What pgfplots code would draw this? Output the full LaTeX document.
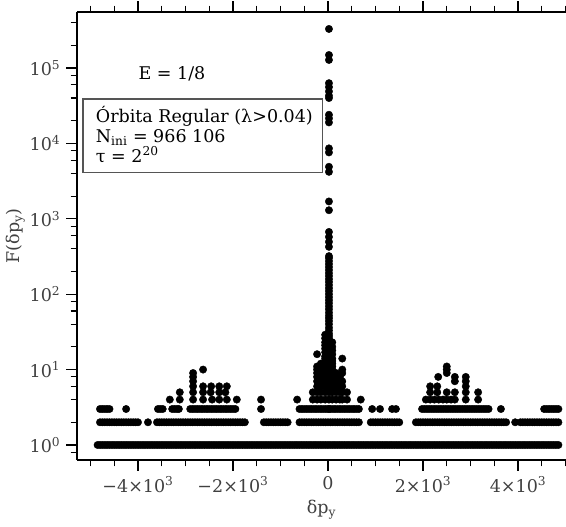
\documentclass[border=0pt]{standalone}
\usepackage{fontspec}
\setmainfont{DejaVu Serif}
\usepackage{pgfplots}
\pgfplotsset{compat=1.18}
\definecolor{lbl}{RGB}{64,64,64}
\definecolor{boxc}{RGB}{85,85,85}
\pgfplotsset{dots/.style={only marks, mark=*, black, mark size=3.7pt, mark options={draw=none, fill=black}}}

\begin{document}
\fontsize{17.5}{21}\selectfont
\begin{tikzpicture}
\path[use as bounding box] (-77pt,-67pt) rectangle (489pt,460pt);
\begin{axis}[
  at={(0,0)}, anchor=south west,
  scale only axis, width=489pt, height=448pt,
  xmin=-5284, xmax=5010,
  ymode=log, ymin=0.632, ymax=5.54e5,
  axis x line*=box, axis y line*=left,
  axis line style={line width=1.2pt, black},
  tick align=outside,
  major tick length=10.7pt, minor tick length=6.3pt,
  every tick/.style={line width=1.2pt, black},
  xtick={-4000,-2000,0,2000,4000},
  xticklabels={−4×10\textsuperscript{3},−2×10\textsuperscript{3},0,2×10\textsuperscript{3},4×10\textsuperscript{3}},
  minor xtick={-5000,-4500,-3500,-3000,-2500,-1500,-1000,-500,500,1000,1500,2500,3000,3500,4500,5000},
  ytick={1,10,100,1000,10000,100000},
  yticklabels={10\textsuperscript{0},10\textsuperscript{1},10\textsuperscript{2},10\textsuperscript{3},10\textsuperscript{4},10\textsuperscript{5}},
  minor ytick={0.8,2,4,6,8,20,40,60,80,200,400,600,800,2000,4000,6000,8000,20000,40000,60000,80000,200000,400000},
  ticklabel style={font=\fontsize{17.5}{21}\selectfont, text=lbl},
  xlabel={δp\textsubscript{y}}, ylabel={F(δp\textsubscript{y})},
  label style={font=\fontsize{17.5}{21}\selectfont, text=lbl},
  xlabel shift=-4pt, ylabel shift=-7pt,
  clip=false,
]
% F = 1
\addplot[dots] coordinates {
(-4850,1) (-4800,1) (-4750,1) (-4700,1) (-4650,1) (-4600,1) (-4550,1) (-4500,1) (-4450,1) (-4400,1)
(-4350,1) (-4300,1) (-4250,1) (-4200,1) (-4150,1) (-4100,1) (-4050,1) (-4000,1) (-3950,1) (-3900,1)
(-3850,1) (-3800,1) (-3750,1) (-3700,1) (-3650,1) (-3600,1) (-3550,1) (-3500,1) (-3450,1) (-3400,1)
(-3350,1) (-3300,1) (-3250,1) (-3200,1) (-3150,1) (-3100,1) (-3050,1) (-3000,1) (-2950,1) (-2900,1)
(-2850,1) (-2800,1) (-2750,1) (-2700,1) (-2650,1) (-2600,1) (-2550,1) (-2500,1) (-2450,1) (-2400,1)
(-2350,1) (-2300,1) (-2250,1) (-2200,1) (-2150,1) (-2100,1) (-2050,1) (-2000,1) (-1950,1) (-1900,1)
(-1850,1) (-1800,1) (-1750,1) (-1700,1) (-1650,1) (-1600,1) (-1550,1) (-1500,1) (-1450,1) (-1400,1)
(-1350,1) (-1300,1) (-1250,1) (-1200,1) (-1150,1) (-1100,1) (-1050,1) (-1000,1) (-950,1) (-900,1)
(-850,1) (-800,1) (-750,1) (-700,1) (-650,1) (-600,1) (-550,1) (-500,1) (-450,1) (-400,1)
(-350,1) (-300,1) (-250,1) (-200,1) (-150,1) (-100,1) (-50,1) (0,1) (50,1) (100,1)
(150,1) (200,1) (250,1) (300,1) (350,1) (400,1) (450,1) (500,1) (550,1) (600,1)
(650,1) (700,1) (750,1) (800,1) (850,1) (900,1) (950,1) (1000,1) (1050,1) (1100,1)
(1150,1) (1200,1) (1250,1) (1300,1) (1350,1) (1400,1) (1450,1) (1500,1) (1550,1) (1600,1)
(1650,1) (1700,1) (1750,1) (1800,1) (1850,1) (1900,1) (1950,1) (2000,1) (2050,1) (2100,1)
(2150,1) (2200,1) (2250,1) (2300,1) (2350,1) (2400,1) (2450,1) (2500,1) (2550,1) (2600,1)
(2650,1) (2700,1) (2750,1) (2800,1) (2850,1) (2900,1) (2950,1) (3000,1) (3050,1) (3100,1)
(3150,1) (3200,1) (3250,1) (3300,1) (3350,1) (3400,1) (3450,1) (3500,1) (3550,1) (3600,1)
(3650,1) (3700,1) (3750,1) (3800,1) (3850,1) (3900,1) (3950,1) (4000,1) (4050,1) (4100,1)
(4150,1) (4200,1) (4250,1) (4300,1) (4350,1) (4400,1) (4450,1) (4500,1) (4550,1) (4600,1)
(4650,1) (4700,1) (4750,1) (4800,1) (4850,1)
};
% F = 2
\addplot[dots] coordinates {
(-4800,2) (-4750,2) (-4700,2) (-4650,2) (-4600,2) (-4550,2) (-4500,2) (-4450,2) (-4400,2) (-4350,2)
(-4300,2) (-4250,2) (-4200,2) (-4150,2) (-4100,2) (-4050,2) (-4000,2)
(-3790,2)
(-3600,2) (-3550,2) (-3500,2) (-3450,2) (-3400,2) (-3350,2) (-3300,2) (-3250,2) (-3200,2) (-3150,2)
(-3100,2) (-3050,2) (-3000,2) (-2950,2) (-2900,2) (-2850,2) (-2800,2) (-2750,2) (-2700,2) (-2650,2)
(-2600,2) (-2550,2) (-2500,2) (-2450,2) (-2400,2) (-2350,2) (-2300,2) (-2250,2) (-2200,2) (-2150,2)
(-2100,2) (-2050,2) (-2000,2) (-1950,2) (-1900,2) (-1850,2) (-1800,2) (-1750,2)
(-1350,2) (-1300,2) (-1250,2) (-1200,2) (-1150,2) (-1100,2) (-1050,2) (-1000,2) (-950,2) (-900,2) (-850,2)
(-600,2) (-550,2) (-500,2) (-450,2) (-400,2) (-350,2) (-300,2) (-250,2) (-200,2) (-150,2)
(-100,2) (-50,2) (0,2) (50,2) (100,2) (150,2) (200,2) (250,2) (300,2) (350,2)
(400,2) (450,2) (500,2) (550,2) (600,2) (650,2)
(900,2) (950,2) (1000,2) (1050,2) (1100,2) (1150,2) (1200,2) (1250,2) (1300,2) (1350,2) (1400,2) (1450,2) (1500,2)
(1850,2) (1900,2) (1950,2) (2000,2) (2050,2) (2100,2) (2150,2) (2200,2) (2250,2) (2300,2)
(2350,2) (2400,2) (2450,2) (2500,2) (2550,2) (2600,2) (2650,2) (2700,2) (2750,2) (2800,2)
(2850,2) (2900,2) (2950,2) (3000,2) (3050,2) (3100,2) (3150,2) (3200,2) (3250,2) (3300,2)
(3350,2) (3400,2) (3450,2) (3500,2) (3550,2) (3600,2) (3650,2) (3700,2) (3750,2)
(3940,2)
(4050,2) (4100,2) (4150,2) (4200,2) (4250,2) (4300,2) (4350,2) (4400,2) (4450,2) (4500,2)
(4550,2) (4600,2) (4650,2) (4700,2) (4750,2) (4800,2) (4850,2)
};
% F = 3
\addplot[dots] coordinates {
(-4800,3) (-4750,3) (-4700,3) (-4650,3) (-4600,3)
(-4250,3)
(-3580,3) (-3530,3) (-3480,3)
(-3280,3) (-3230,3) (-3180,3) (-3140,3)
(-2900,3) (-2850,3) (-2800,3) (-2750,3) (-2700,3) (-2650,3) (-2600,3) (-2550,3) (-2500,3) (-2450,3)
(-2400,3) (-2350,3) (-2300,3) (-2250,3) (-2200,3) (-2150,3) (-2100,3) (-2050,3) (-2000,3) (-1950,3)
(-1410,3)
(-600,3) (-550,3) (-500,3) (-450,3) (-400,3) (-350,3) (-300,3) (-250,3) (-200,3) (-150,3)
(-100,3) (-50,3) (0,3) (50,3) (100,3) (150,3) (200,3) (250,3) (300,3) (350,3)
(400,3) (450,3) (500,3) (550,3) (600,3) (650,3)
(930,3) (1095,3) (1350,3) (1430,3)
(1980,3) (2030,3) (2080,3) (2130,3) (2180,3) (2230,3) (2280,3) (2330,3) (2380,3) (2430,3)
(2480,3) (2530,3) (2580,3) (2630,3) (2680,3) (2730,3) (2780,3) (2830,3) (2880,3) (2930,3)
(2980,3) (3030,3) (3080,3) (3130,3) (3180,3) (3230,3) (3280,3) (3330,3) (3380,3)
(3640,3)
(4550,3) (4600,3) (4650,3) (4700,3) (4750,3) (4800,3) (4850,3)
};
% F = 4 ... 11, side clusters
\addplot[dots] coordinates {
(-3330,4) (-3120,4) (-2840,4) (-2630,4) (-2440,4) (-2290,4) (-2130,4) (-1920,4) (-1410,4) (-650,4)
(690,4) (2060,4) (2150,4) (2240,4) (2330,4) (2420,4) (2500,4) (2590,4) (2670,4) (2900,4) (3160,4)
(-3120,5) (-2840,5) (-2630,5) (-2470,5) (-2290,5) (-2160,5)
(2150,5) (2300,5) (2500,5) (2670,5) (2900,5) (3160,5)
(-2840,6) (-2630,6) (-2460,6) (-2290,6) (-2130,6) (2150,6) (2300,6) (2900,6)
(-2840,7) (2670,7) (2900,7)
(-2840,8) (2320,8) (2670,8) (2900,8)
(-2840,9) (2500,9)
(-2630,10) (2500,10)
(2500,11)
};
% central cluster
\addplot[dots] coordinates {
(-320,4) (-320,5)
(-230,4) (-230,5) (-230,6) (-230,7) (-230,8) (-230,9) (-230,10) (-230,11) (-230,16)
(-150,4) (-150,5) (-150,6) (-150,7) (-150,8) (-150,9) (-150,10) (-150,12)
(-60,4) (-60,5) (-60,6) (-60,7) (-60,8) (-60,9) (-60,10) (-60,11) (-60,12) (-60,13)
(-60,14) (-60,15) (-60,17) (-60,19) (-60,21) (-60,23) (-60,26) (-60,29)
(90,4) (90,5) (90,6) (90,7) (90,8) (90,9) (90,10) (90,11) (90,12) (90,13)
(90,14) (90,16) (90,18) (90,20) (90,23)
(170,4) (170,5) (170,6) (170,7) (170,8) (170,9)
(250,4) (250,5) (250,6) (250,7) (250,8)
(300,4) (300,5) (300,6) (300,7) (300,9) (300,10) (300,14)
(400,4) (400,5)
};
% central spike
\addplot[dots] coordinates {
(20,3) (20,4) (20,5) (20,6) (20,7) (20,8) (20,9) (20,10) (20,11) (20,12)
(20,13) (20,14) (20,15) (20,16) (20,17) (20,18) (20,20) (20,22) (20,24) (20,26)
(20,28) (20,30) (20,33) (20,36) (20,40) (20,44) (20,48) (20,52) (20,57) (20,63)
(20,69) (20,76) (20,83) (20,91) (20,100) (20,110) (20,120) (20,132) (20,145) (20,158)
(20,174) (20,190) (20,209) (20,229) (20,251) (20,275) (20,302) (20,320)
(20,425) (20,495) (20,575) (20,670) (20,1300) (20,1700) (20,4200) (20,4900) (20,7600) (20,8600)
(20,19000) (20,21500) (20,24000) (20,40000) (20,43000) (20,49000) (20,56000) (20,63000)
(20,128000) (20,149000) (20,330000)
};
\node[anchor=base west, inner sep=0] at (rel axis cs:0.1256,0.850) {E = 1/8};
\draw[boxc, line width=1.2pt, fill=white] (rel axis cs:0.0123,0.806) rectangle (rel axis cs:0.502,0.641);
\node[anchor=base west, inner sep=0] at (rel axis cs:0.0383,0.754) {Órbita Regular (λ>0.04)};
\node[anchor=base west, inner sep=0] at (rel axis cs:0.0383,0.708) {N\textsubscript{ini} = 966 106};
\node[anchor=base west, inner sep=0] at (rel axis cs:0.0383,0.665) {τ = 2\textsuperscript{20}};
\end{axis}
\end{tikzpicture}
\end{document}
